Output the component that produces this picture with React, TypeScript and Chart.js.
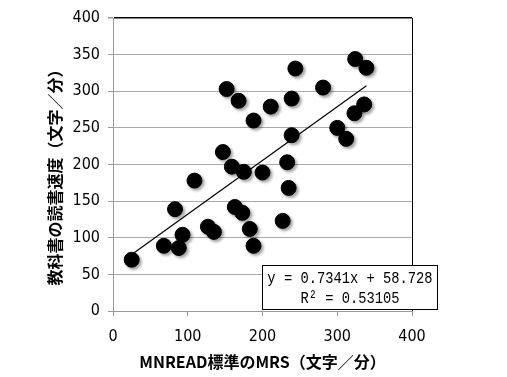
import React, { useEffect, useRef } from "react";
import { Chart, registerables } from "chart.js";

Chart.register(...registerables);

const xValues = [25, 68, 88, 93, 83, 109, 127, 135, 163, 173, 183, 188, 147, 159, 175, 200, 152, 168, 188, 211, 244, 239, 281, 324, 339, 336, 323, 300, 312, 239, 233, 235, 227];
const yValues = [70, 89, 86, 104, 139, 178, 115, 108, 142, 134, 112, 89, 217, 197, 190, 189, 303, 287, 260, 279, 331, 290, 305, 344, 332, 282, 270, 250, 235, 240, 203, 168, 123];
const xTickValues = [0, 100, 200, 300, 400];
const yTickStep = 50;
const slope = 0.7341;
const intercept = 58.728;
const eqLine1 = "y = 0.7341x + 58.728";
const eqLine2 = "R² = 0.53105";
const xTitle = "MNREAD標準のMRS（文字／分）";
const yTitle = "教科書の読書速度（文字／分）";

const tickFont = "'Liberation Sans Narrow', 'DejaVu Sans Condensed', 'Liberation Sans', sans-serif";
const titleFont = "'Liberation Sans Narrow', 'Noto Sans CJK JP', sans-serif";

export default function App() {
  const ref = useRef<HTMLCanvasElement>(null);
  useEffect(() => {
    if (!ref.current) return;
    const points = xValues.map((x, i) => ({ x, y: yValues[i] }));
    const minX = Math.min(...xValues);
    const maxX = Math.max(...xValues);
    const trend = [
      { x: minX, y: slope * minX + intercept },
      { x: maxX, y: slope * maxX + intercept },
    ];
    const decor = {
      id: "decor",
      beforeDatasetDraw(chart: any, args: any) {
        if (args.index === 1) {
          const c = chart.ctx;
          c.shadowColor = "rgba(0,0,0,0.35)";
          c.shadowBlur = 3;
          c.shadowOffsetX = 2;
          c.shadowOffsetY = 2;
        }
      },
      afterDatasetDraw(chart: any, args: any) {
        if (args.index === 1) {
          const c = chart.ctx;
          c.shadowColor = "rgba(0,0,0,0)";
          c.shadowBlur = 0;
          c.shadowOffsetX = 0;
          c.shadowOffsetY = 0;
        }
      },
      afterDraw(chart: any) {
        const c = chart.ctx;
        const a = chart.chartArea;
        c.save();
        // right border
        c.strokeStyle = "#000";
        c.lineWidth = 1;
        c.beginPath();
        c.moveTo(Math.round(a.right) + 0.5, a.top);
        c.lineTo(Math.round(a.right) + 0.5, a.bottom);
        c.stroke();
        // y title
        c.fillStyle = "#000";
        c.font = `bold 16px ${titleFont}`;
        c.textAlign = "center";
        c.textBaseline = "middle";
        c.save();
        c.translate(a.left - 58, (a.top + a.bottom) / 2 + 9);
        c.rotate(-Math.PI / 2);
        c.fillText(yTitle, 0, 0);
        c.restore();
        // equation box
        const bx = a.left + 149.5;
        const by = a.bottom - 45.5;
        const bw = 175;
        const bh = 44;
        c.fillStyle = "#fff";
        c.fillRect(bx, by, bw, bh);
        c.strokeStyle = "#000";
        c.lineWidth = 1;
        c.strokeRect(bx, by, bw, bh);
        c.fillStyle = "#000";
        const cx = bx + bw / 2;
        [eqLine1, eqLine2].forEach((t, i) => {
          c.save();
          c.translate(cx, by + 13 + i * 20);
          c.scale(0.81, 1);
          c.font = "17px 'Liberation Mono', 'DejaVu Sans Mono', monospace";
          c.textAlign = "center";
          c.textBaseline = "middle";
          c.fillText(t, 0, 0);
          c.restore();
        });
        c.restore();
      },
    };
    const chart = new Chart(ref.current, {
      type: "scatter",
      data: {
        datasets: [
          {
            type: "line",
            data: trend,
            borderColor: "#000",
            borderWidth: 1.2,
            pointRadius: 0,
            fill: false,
          } as any,
          {
            data: points,
            backgroundColor: "#000",
            borderColor: "#000",
            pointRadius: 7.5,
            pointHoverRadius: 7.5,
          },
        ],
      },
      options: {
        animation: false,
        responsive: false,
        events: [],
        layout: { padding: { top: 18, right: 95, left: 0, bottom: 0 } },
        plugins: { legend: { display: false }, tooltip: { enabled: false } },
        scales: {
          x: {
            type: "linear",
            min: 0,
            max: 400,
            afterFit: (s: any) => { s.height = 66; },
            afterBuildTicks: (s: any) => { s.ticks = xTickValues.map((v) => ({ value: v })); },
            ticks: { color: "#000", font: { family: tickFont, size: 16 }, padding: 11, maxRotation: 0 },
            grid: { drawOnChartArea: false, drawTicks: true, tickLength: 5, color: "#999" },
            border: { color: "#999", width: 1 },
            title: { display: true, text: xTitle, color: "#000", font: { family: titleFont, size: 16, weight: "bold" }, padding: { top: 0, bottom: 5 } },
          },
          y: {
            type: "linear",
            min: 0,
            max: 400,
            afterFit: (s: any) => { s.width = 113; },
            ticks: { stepSize: yTickStep, color: "#000", font: { family: tickFont, size: 16 }, padding: 8 },
            grid: {
              color: (ctx: any) => (ctx.tick && ctx.tick.value === 400 ? "#000" : "#aaa"),
              lineWidth: (ctx: any) => (ctx.tick && ctx.tick.value === 400 ? 1.5 : 1),
              tickColor: "#999",
              tickLength: 5,
            },
            border: { color: "#999", width: 1 },
          },
        },
      },
      plugins: [decor],
    });
    return () => chart.destroy();
  }, []);
  return (
    <div style={{ position: "absolute", left: 0, top: 0, width: 507, height: 377, background: "#fff" }}>
      <canvas ref={ref} width={507} height={377} style={{ display: "block" }} />
    </div>
  );
}
